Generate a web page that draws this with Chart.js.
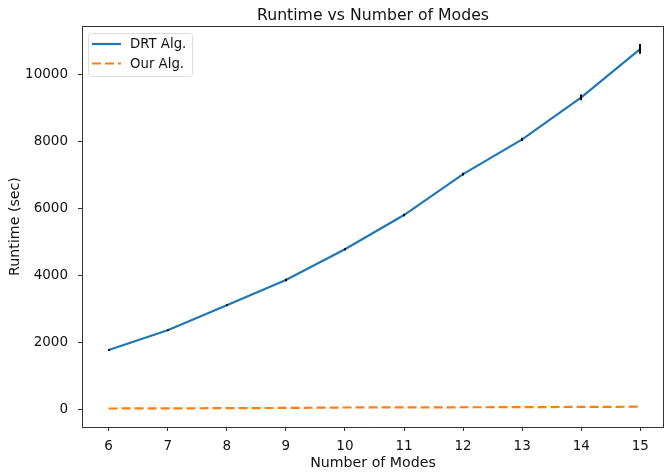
<!DOCTYPE html>
<html>
<head>
<meta charset="utf-8">
<script src="https://cdn.jsdelivr.net/npm/chart.js@4.4.0/dist/chart.umd.min.js"></script>
<style>
html, body { margin:0; padding:0; background:#fff; overflow:hidden; }
canvas { display:block; }
</style>
</head>
<body>
<canvas id="chart" width="664" height="472"></canvas>
<script>
// data
var modes = [6, 7, 8, 9, 10, 11, 12, 13, 14, 15];
var drtRuntime = [1760, 2350, 3100, 3850, 4770, 5790, 7010, 8050, 9300, 10750];
var drtError = [10, 10, 10, 20, 15, 20, 25, 35, 70, 130];
var ourRuntime = [15, 20, 25, 32, 45, 50, 52, 55, 62, 70];
var yTicks = [0, 2000, 4000, 6000, 8000, 10000];

var FONT = "'DejaVu Sans', sans-serif";
var TEXT = "#111";
var SPINE = "#333";

function toPoints(ys) {
	var pts = [];
	for (var i = 0; i < modes.length; i++) {
		pts.push({ x: modes[i], y: ys[i] });
	}
	return pts;
}

// error bars, top spine, legend and title
var extras = {
	id: "extras",
	afterDatasetsDraw: function (chart) {
		var ctx = chart.ctx;
		var xs = chart.scales.x, ys = chart.scales.y;
		ctx.save();
		ctx.strokeStyle = "#000";
		ctx.lineWidth = 2;
		for (var i = 0; i < modes.length; i++) {
			var px = Math.round(xs.getPixelForValue(modes[i]));
			ctx.beginPath();
			ctx.moveTo(px, ys.getPixelForValue(drtRuntime[i] - drtError[i]) + 0.5);
			ctx.lineTo(px, ys.getPixelForValue(drtRuntime[i] + drtError[i]) - 0.5);
			ctx.stroke();
		}
		ctx.restore();
	},
	afterDraw: function (chart) {
		var ctx = chart.ctx;
		var a = chart.chartArea;
		ctx.save();
		// top + right spine
		ctx.strokeStyle = SPINE;
		ctx.lineWidth = 1;
		ctx.beginPath();
		ctx.moveTo(a.left, a.top + 0.5);
		ctx.lineTo(a.right, a.top + 0.5);
		ctx.moveTo(a.right - 0.5, a.top);
		ctx.lineTo(a.right - 0.5, a.bottom);
		ctx.stroke();

		// title
		ctx.fillStyle = TEXT;
		ctx.font = "15.7px " + FONT;
		ctx.textAlign = "center";
		ctx.textBaseline = "middle";
		ctx.fillText("Runtime vs Number of Modes", (a.left + a.right) / 2, 16);

		// legend box
		var lx = 88.5, ly = 33.5, lw = 104, lh = 43;
		ctx.fillStyle = "rgba(255,255,255,0.8)";
		ctx.strokeStyle = "#dcdcdc";
		ctx.beginPath();
		ctx.roundRect(lx, ly, lw, lh, 3);
		ctx.fill();
		ctx.stroke();

		var ds = chart.data.datasets;
		ctx.font = "13.3px " + FONT;
		ctx.textAlign = "left";
		for (var k = 0; k < ds.length; k++) {
			var y = 44 + k * 19.5;
			ctx.strokeStyle = ds[k].borderColor;
			ctx.lineWidth = ds[k].borderWidth;
			ctx.setLineDash(ds[k].borderDash || []);
			ctx.beginPath();
			ctx.moveTo(92, y);
			ctx.lineTo(121, y);
			ctx.stroke();
			ctx.setLineDash([]);
			ctx.fillStyle = TEXT;
			ctx.fillText(ds[k].label, 130, y + 1);
		}
		ctx.restore();
	}
};

var chart = new Chart(document.getElementById("chart"), {
	type: "line",
	data: {
		datasets: [
			{
				label: "DRT Alg.",
				data: toPoints(drtRuntime),
				borderColor: "#1f77b4",
				borderWidth: 2.2,
				pointRadius: 0,
				tension: 0,
				fill: false
			},
			{
				label: "Our Alg.",
				data: toPoints(ourRuntime),
				borderColor: "#ff7f0e",
				borderWidth: 2.2,
				borderDash: [9, 4],
				pointRadius: 0,
				tension: 0,
				fill: false
			}
		]
	},
	options: {
		responsive: false,
		animation: false,
		layout: { padding: { top: 26, left: 0, right: 0, bottom: 0 } },
		plugins: {
			legend: { display: false },
			title: { display: false },
			tooltip: { enabled: false }
		},
		scales: {
			x: {
				type: "linear",
				min: 5.55,
				max: 15.4,
				afterFit: function (s) { s.height = 45; },
				afterBuildTicks: function (s) {
					s.ticks = modes.map(function (v) { return { value: v }; });
				},
				border: { display: true, color: SPINE, width: 1 },
				grid: { drawOnChartArea: false, drawTicks: true, tickLength: 4, color: SPINE },
				ticks: {
					font: { family: FONT, size: 13.5 },
					color: TEXT,
					padding: 7,
					maxRotation: 0,
					autoSkip: false
				},
				title: {
					display: true,
					text: "Number of Modes",
					font: { family: FONT, size: 14.2 },
					color: TEXT,
					padding: { top: 0, bottom: 0 }
				}
			},
			y: {
				type: "linear",
				min: -537,
				max: 11433,
				afterFit: function (s) { s.width = 82; },
				afterBuildTicks: function (s) {
					s.ticks = yTicks.map(function (v) { return { value: v }; });
				},
				border: { display: true, color: SPINE, width: 1 },
				grid: { drawOnChartArea: false, drawTicks: true, tickLength: 4, color: SPINE },
				ticks: {
					font: { family: FONT, size: 13.5 },
					color: TEXT,
					padding: 10,
					callback: function (v) { return String(v); }
				},
				title: {
					display: true,
					text: "Runtime (sec)",
					font: { family: FONT, size: 14.2 },
					color: TEXT,
					padding: { top: 7, bottom: 0 }
				}
			}
		}
	},
	plugins: [extras]
});
</script>
</body>
</html>
